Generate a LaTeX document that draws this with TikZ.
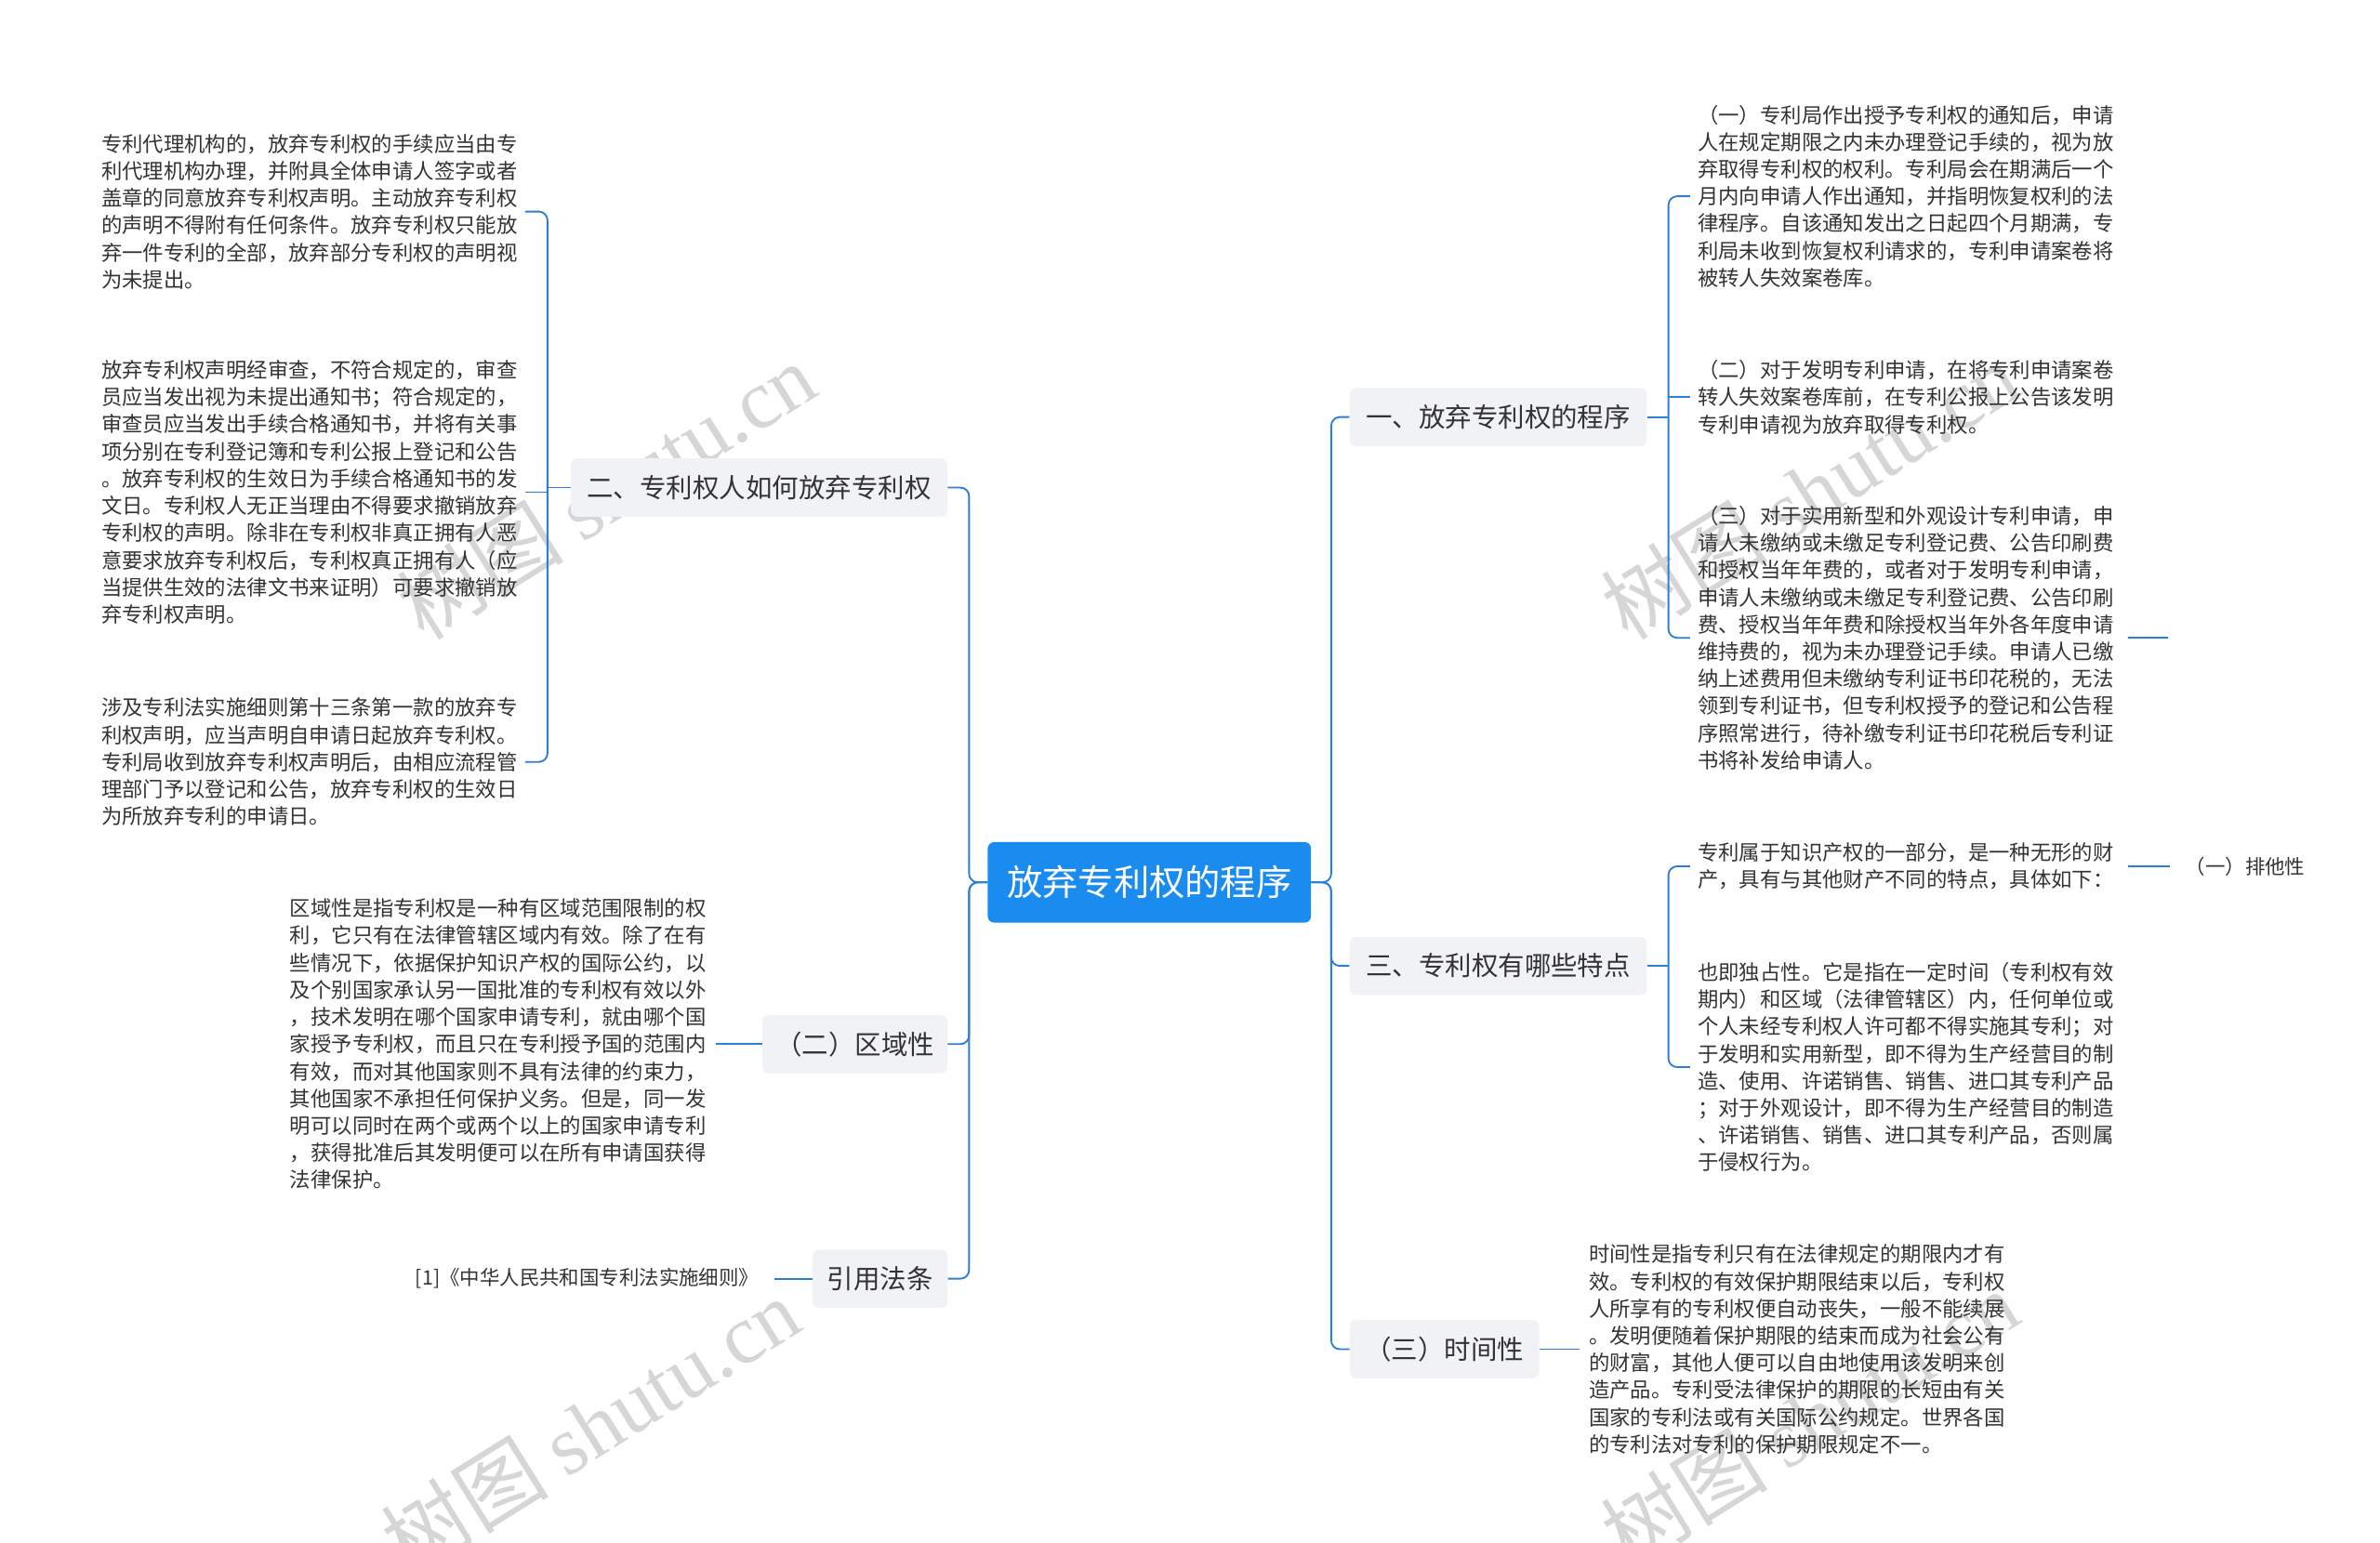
\documentclass[tikz,border=0pt]{standalone}
\usepackage{fontspec}
\setmainfont{Noto Sans CJK SC}
\newfontfamily\wmfont{Liberation Serif}
\usetikzlibrary{calc}
\definecolor{lineblue}{HTML}{2B7FD6}
\definecolor{mainblue}{HTML}{1A8CF0}
\definecolor{boxgray}{HTML}{F0F2F5}
\definecolor{txt}{HTML}{333333}
\tikzset{
 conn/.style={draw=lineblue,line width=1.6pt,rounded corners=8},
 leaf/.style={anchor=west,inner sep=0pt,align=left,text=txt,font=\fontsize{19.1}{24.95}\selectfont},
 lvl/.style={fill=boxgray,rounded corners=6,minimum height=53.5pt,inner sep=0pt,text=txt,font=\fontsize{24.3}{30}\selectfont},
 wm/.style={text=black!16,rotate=32,font=\fontsize{77}{90}\selectfont}
}
\begin{document}
\begin{tikzpicture}[x=0.0495cm,y=-0.0495cm]
\useasboundingbox (0,0) rectangle (1552,1006);
\fill[white] (0,0) rectangle (1552,1006);
% watermarks
\node[wm] (w1) at (395,320) {树图 {\wmfont shutu.cn}};
\node[wm] (w2) at (385,930) {树图 {\wmfont shutu.cn}};
\node[wm] (w3) at (1180,320) {树图 {\wmfont shutu.cn}};
\node[wm] (w4) at (1180,925) {树图 {\wmfont shutu.cn}};
% center
\node[fill=mainblue,rounded corners=6,minimum width=297pt,minimum height=74pt,inner sep=0pt,text=white,font=\fontsize{32.7}{38}\selectfont] (c) at (749.5,575.5) {放弃专利权的程序};
% level 1
\node[lvl,minimum width=346pt] (n2) at (495,318) {二、专利权人如何放弃专利权};
\node[lvl,minimum width=170pt] (ng) at (557.5,681) {（二）区域性};
\node[lvl,minimum width=124pt] (ny) at (574,834) {引用法条};
\node[lvl,minimum width=273pt] (n1) at (977,272) {一、放弃专利权的程序};
\node[lvl,minimum width=273pt] (n3) at (977,630) {三、专利权有哪些特点};
\node[lvl,minimum width=174pt] (nt) at (942,880) {（三）时间性};
% left leaves
\node[leaf] (L1) at (66,138) {专利代理机构的，放弃专利权的手续应当由专\\利代理机构办理，并附具全体申请人签字或者\\盖章的同意放弃专利权声明。主动放弃专利权\\的声明不得附有任何条件。放弃专利权只能放\\弃一件专利的全部，放弃部分专利权的声明视\\为未提出。};
\node[leaf] (L2) at (66,321) {放弃专利权声明经审查，不符合规定的，审查\\员应当发出视为未提出通知书；符合规定的，\\审查员应当发出手续合格通知书，并将有关事\\项分别在专利登记簿和专利公报上登记和公告\\。放弃专利权的生效日为手续合格通知书的发\\文日。专利权人无正当理由不得要求撤销放弃\\专利权的声明。除非在专利权非真正拥有人恶\\意要求放弃专利权后，专利权真正拥有人（应\\当提供生效的法律文书来证明）可要求撤销放\\弃专利权声明。};
\node[leaf] (L3) at (66,497) {涉及专利法实施细则第十三条第一款的放弃专\\利权声明，应当声明自申请日起放弃专利权。\\专利局收到放弃专利权声明后，由相应流程管\\理部门予以登记和公告，放弃专利权的生效日\\为所放弃专利的申请日。};
\node[leaf] (G1) at (189,681) {区域性是指专利权是一种有区域范围限制的权\\利，它只有在法律管辖区域内有效。除了在有\\些情况下，依据保护知识产权的国际公约，以\\及个别国家承认另一国批准的专利权有效以外\\，技术发明在哪个国家申请专利，就由哪个国\\家授予专利权，而且只在专利授予国的范围内\\有效，而对其他国家则不具有法律的约束力，\\其他国家不承担任何保护义务。但是，同一发\\明可以同时在两个或两个以上的国家申请专利\\，获得批准后其发明便可以在所有申请国获得\\法律保护。};
\node[leaf,anchor=east,font=\fontsize{18.3}{24}\selectfont] (Y1) at (495,834) {[1]《中华人民共和国专利法实施细则》};
% right leaves
\node[leaf] (R1) at (1107,128) {（一）专利局作出授予专利权的通知后，申请\\人在规定期限之内未办理登记手续的，视为放\\弃取得专利权的权利。专利局会在期满后一个\\月内向申请人作出通知，并指明恢复权利的法\\律程序。自该通知发出之日起四个月期满，专\\利局未收到恢复权利请求的，专利申请案卷将\\被转人失效案卷库。};
\node[leaf] (R2) at (1107,259) {（二）对于发明专利申请，在将专利申请案卷\\转人失效案卷库前，在专利公报上公告该发明\\专利申请视为放弃取得专利权。};
\node[leaf] (R3) at (1107,416) {（三）对于实用新型和外观设计专利申请，申\\请人未缴纳或未缴足专利登记费、公告印刷费\\和授权当年年费的，或者对于发明专利申请，\\申请人未缴纳或未缴足专利登记费、公告印刷\\费、授权当年年费和除授权当年外各年度申请\\维持费的，视为未办理登记手续。申请人已缴\\纳上述费用但未缴纳专利证书印花税的，无法\\领到专利证书，但专利权授予的登记和公告程\\序照常进行，待补缴专利证书印花税后专利证\\书将补发给申请人。};
\node[leaf] (T1) at (1107,565) {专利属于知识产权的一部分，是一种无形的财\\产，具有与其他财产不同的特点，具体如下：};
\node[leaf] (T2) at (1107,696) {也即独占性。它是指在一定时间（专利权有效\\期内）和区域（法律管辖区）内，任何单位或\\个人未经专利权人许可都不得实施其专利；对\\于发明和实用新型，即不得为生产经营目的制\\造、使用、许诺销售、销售、进口其专利产品\\；对于外观设计，即不得为生产经营目的制造\\、许诺销售、销售、进口其专利产品，否则属\\于侵权行为。};
\node[leaf,font=\fontsize{18.3}{24}\selectfont] (P1) at (1425,565) {（一）排他性};
\node[leaf] (S1) at (1036,880) {时间性是指专利只有在法律规定的期限内才有\\效。专利权的有效保护期限结束以后，专利权\\人所享有的专利权便自动丧失，一般不能续展\\。发明便随着保护期限的结束而成为社会公有\\的财富，其他人便可以自由地使用该发明来创\\造产品。专利受法律保护的期限的长短由有关\\国家的专利法或有关国际公约规定。世界各国\\的专利法对专利的保护期限规定不一。};
\coordinate (stub) at (1414,416);
% center connectors
\foreach \n in {n2,ng,ny} \draw[conn] (c.west) -- ++(-12,0) |- (\n.east);
\foreach \n in {n1,n3,nt} \draw[conn] (c.east) -- ++(13,0) |- (\n.west);
% left brackets
\draw[conn] ($(L1.east)+(5,0)$) -| (357,318) |- ($(L3.east)+(5,0)$);
\draw[conn] (357,318) -- (n2.west);
\draw[conn] ($(L2.east)+(5,0)$) -- (357,321);
\draw[conn] ($(G1.east)+(6,0)$) -- (ng.west);
\draw[conn] ($(Y1.east)+(10,0)$) -- (ny.west);
% right brackets
\draw[conn] ($(R1.west)+(-5,0)$) -| (1088,272) |- ($(R3.west)+(-5,0)$);
\draw[conn] (n1.east) -- (1088,272);
\draw[conn] ($(R2.west)+(-5,0)$) -- (1088,259);
\draw[conn] ($(R3.east)+(9,0)$) -- (stub);
\draw[conn] ($(T1.west)+(-5,0)$) -| (1088,630) |- ($(T2.west)+(-5,0)$);
\draw[conn] (n3.east) -- (1088,630);
\draw[conn] ($(T1.east)+(9,0)$) -- ($(P1.west)+(-10,0)$);
\draw[conn] (nt.east) -- ($(S1.west)+(-6,0)$);
\end{tikzpicture}
\end{document}
